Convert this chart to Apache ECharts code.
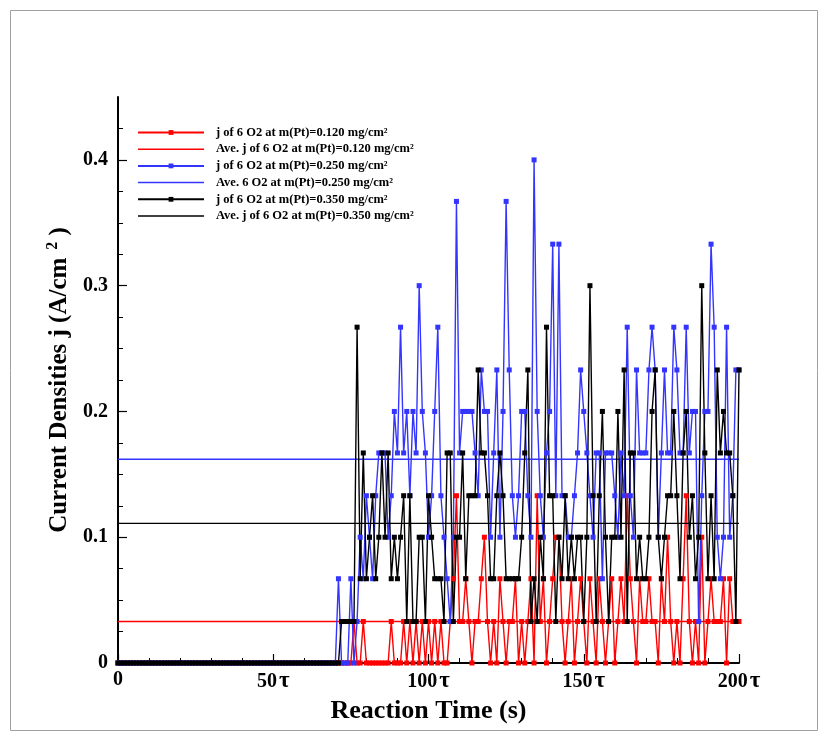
<!DOCTYPE html>
<html>
<head>
<meta charset="utf-8">
<script src="https://cdn.jsdelivr.net/npm/echarts@6/dist/echarts.min.js"></script>
<style>
  html, body { margin: 0; padding: 0; background: #fff; }
  #chart { width: 825px; height: 740px; }
</style>
</head>
<body>
<div id="chart"></div>
<script>
// Reaction time axis (τ units), one sample per step
const xTicks = [0, 50, 100, 150, 200];
const yTicks = [0, 0.1, 0.2, 0.3, 0.4];

// Current density j (A/cm^2), samples at t = 0, 1, 2, ... 200
const jPt120 = [
  0,0,0,0,0,0,0,0,0,0, 0,0,0,0,0,0,0,0,0,0, 0,0,0,0,0,0,0,0,0,0, 0,0,0,0,0,0,0,0,0,0,
  0,0,0,0,0,0,0,0,0,0, 0,0,0,0,0,0,0,0,0,0, 0,0,0,0,0,0,0,0,0,0,
  0,0,0,0,0,0,0.033,0,0,0.033, 0,0,0,0,0,0,0,0,0.033,0, 0,0,0.033,0,0.033,0,0.033,0,0.033,0,
  0.033,0,0.033,0,0.033,0,0,0.033,0.067,0.133, 0.033,0.033,0.067,0.033,0,0.033,0.033,0.067,0.1,0.033,
  0,0.033,0,0.067,0.033,0,0.033,0.033,0.067,0, 0.033,0,0.033,0.067,0,0.133,0.033,0.067,0,0.033,
  0.067,0.1,0.1,0.033,0,0.033,0.067,0,0.033,0.067, 0.033,0,0.067,0.033,0,0.067,0.033,0,0.033,0.067,
  0,0.033,0.067,0.033,0.133,0.067,0.033,0,0.067,0.033, 0.033,0.067,0.033,0.033,0,0.067,0.033,0.1,0.033,0,
  0.033,0,0.067,0.133,0.033,0,0.033,0,0.1,0, 0.033,0.067,0.033,0.033,0.033,0.067,0,0.067,0.033,0.033,
  0.033
];
const jPt250 = [
  0,0,0,0,0,0,0,0,0,0, 0,0,0,0,0,0,0,0,0,0, 0,0,0,0,0,0,0,0,0,0, 0,0,0,0,0,0,0,0,0,0,
  0,0,0,0,0,0,0,0,0,0, 0,0,0,0,0,0,0,0,0,0, 0,0,0,0,0,0,0,0,0,0,
  0,0.067,0,0,0,0.067,0,0.033,0.1,0.067, 0.133,0.1,0.067,0.133,0.167,0.167,0.167,0.1,0.133,0.2,
  0.167,0.267,0.167,0.2,0.133,0.2,0.167,0.3,0.2,0.167, 0.1,0.133,0.2,0.267,0.133,0.1,0.067,0.033,0.1,0.367,
  0.167,0.2,0.2,0.2,0.2,0.167,0.133,0.233,0.2,0.2, 0.1,0.167,0.233,0.1,0.2,0.367,0.233,0.133,0.1,0.133,
  0.2,0.2,0.133,0.1,0.4,0.2,0.133,0.1,0.167,0.2, 0.333,0.133,0.333,0.133,0.133,0.1,0.1,0.133,0.167,0.233,
  0.2,0.167,0.133,0.1,0.167,0.167,0.067,0.167,0.167,0.167, 0.133,0.1,0.167,0.133,0.267,0.133,0.1,0.233,0.167,0.167,
  0.167,0.233,0.267,0.233,0.1,0.167,0.233,0.167,0.167,0.267, 0.233,0.167,0.167,0.267,0.167,0.2,0.2,0.033,0.133,0.2,
  0.2,0.333,0.267,0.1,0.067,0.1,0.267,0.1,0.133,0.233, 0.233
];
const jPt350 = [
  0,0,0,0,0,0,0,0,0,0, 0,0,0,0,0,0,0,0,0,0, 0,0,0,0,0,0,0,0,0,0, 0,0,0,0,0,0,0,0,0,0,
  0,0,0,0,0,0,0,0,0,0, 0,0,0,0,0,0,0,0,0,0, 0,0,0,0,0,0,0,0,0,0,
  0,0,0.033,0.033,0.033,0.033,0.033,0.267,0.067,0.167, 0.067,0.1,0.133,0.067,0.1,0.167,0.1,0.167,0.067,0.1,
  0.067,0.1,0.133,0.033,0.133,0.033,0.033,0.1,0.1,0.033, 0.133,0.1,0.067,0.067,0.067,0.033,0.167,0.167,0.033,0.1,
  0.1,0.167,0.067,0.133,0.133,0.133,0.233,0.167,0.167,0.133, 0.067,0.067,0.133,0.167,0.133,0.067,0.067,0.067,0.067,0.067,
  0.1,0.167,0.233,0.033,0.067,0.033,0.1,0.067,0.267,0.133, 0.133,0.033,0.1,0.067,0.133,0.067,0.1,0.067,0.1,0.1,
  0.033,0.1,0.3,0.133,0.033,0.133,0.2,0.1,0.033,0.1, 0.1,0.2,0.1,0.233,0.033,0.167,0.167,0.067,0.1,0.067,
  0.067,0.1,0.2,0.233,0.1,0.067,0.1,0.133,0.133,0.2, 0.133,0.067,0.167,0.2,0.1,0.133,0.067,0.1,0.3,0.167,
  0.067,0.133,0.067,0.233,0.167,0.2,0.167,0.167,0.133,0.033, 0.233
];

// Averaged current densities (A/cm^2)
const avgPt120 = 0.033;
const avgPt250 = 0.162;
const avgPt350 = 0.111;

const seriesNames = [
  'j of 6 O2 at m(Pt)=0.120 mg/cm²',
  'Ave. j of 6 O2 at m(Pt)=0.120 mg/cm²',
  'j of 6 O2 at m(Pt)=0.250 mg/cm²',
  'Ave. 6 O2 at m(Pt)=0.250 mg/cm²',
  'j of 6 O2 at m(Pt)=0.350 mg/cm²',
  'Ave. j of 6 O2 at m(Pt)=0.350 mg/cm²'
];
const RED = '#ff0000', BLUE = '#3434ff', BLACK = '#000000';
const FONT = '"Liberation Serif", "Times New Roman", serif';
const LINE_ICON = 'path://M0,0H100V2.3H0Z';

const toPoints = arr => arr.map((v, i) => [i, v]);
const flat = v => [[xTicks[0], v], [xTicks[xTicks.length - 1], v]];

function sampleSeries(name, data, color) {
  return {
    name, type: 'line', data: toPoints(data),
    symbol: 'rect', symbolSize: 5, showSymbol: true,
    lineStyle: { color, width: 1.4 },
    itemStyle: { color },
    emphasis: { disabled: true }
  };
}
function avgSeries(name, v, color) {
  return {
    name, type: 'line', data: flat(v), symbol: 'none',
    lineStyle: { color, width: 1.4 },
    itemStyle: { color },
    emphasis: { disabled: true }
  };
}

const chart = echarts.init(document.getElementById('chart'), null, { renderer: 'canvas' });
chart.setOption({
  animation: false,
  backgroundColor: '#ffffff',
  graphic: [{
    type: 'rect', silent: true,
    shape: { x: 10.5, y: 10.5, width: 807, height: 720 },
    style: { fill: 'none', stroke: '#a0a0a0', lineWidth: 1 }
  }],
  grid: { left: 118, right: 86, top: 97, bottom: 77 },
  legend: {
    orient: 'vertical', left: 132, top: 121,
    itemWidth: 66, itemHeight: 6, itemGap: 3.7,
    textStyle: { fontFamily: FONT, fontWeight: 'bold', fontSize: 12.5, color: '#000', padding: [0, 0, 0, 7] },
    data: seriesNames.map((name, i) => i % 2 ? { name, icon: LINE_ICON } : { name })
  },
  xAxis: {
    type: 'value', min: 0, max: 200, interval: 50,
    name: 'Reaction Time (s)', nameLocation: 'middle', nameGap: 30,
    nameTextStyle: { fontFamily: FONT, fontWeight: 'bold', fontSize: 26, color: '#000' },
    axisLine: { lineStyle: { color: '#000', width: 2 } },
    axisTick: { inside: true, length: 9, lineStyle: { color: '#000', width: 1.2 }, customValues: xTicks },
    minorTick: { show: true, splitNumber: 5, length: 5, lineStyle: { color: '#000', width: 1 } },
    splitLine: { show: false },
    axisLabel: {
      customValues: xTicks, margin: 7,
      fontFamily: FONT, fontWeight: 'bold', fontSize: 20, color: '#000',
      formatter: v => v === 0 ? '0' : '{n|' + v + '}{t|τ}',
      rich: {
        n: { fontFamily: FONT, fontWeight: 'bold', fontSize: 20, color: '#000' },
        t: { fontFamily: FONT, fontSize: 23, color: '#000', padding: [0, 0, 0, 2] }
      }
    }
  },
  yAxis: {
    type: 'value', min: 0, max: 0.45, interval: 0.1,
    name: 'Current Densities j (A/cm{sup|2} )', nameLocation: 'middle', nameGap: 43, nameRotate: 90,
    nameTextStyle: {
      fontFamily: FONT, fontWeight: 'bold', fontSize: 25, color: '#000',
      rich: { sup: { fontFamily: FONT, fontWeight: 'bold', fontSize: 16, verticalAlign: 'top', padding: [0, 0, 14, 8] } }
    },
    axisLine: { show: true, lineStyle: { color: '#000', width: 2 } },
    axisTick: { inside: true, length: 9, lineStyle: { color: '#000', width: 1.2 }, customValues: yTicks },
    minorTick: { show: true, splitNumber: 4, length: 5, lineStyle: { color: '#000', width: 1 } },
    splitLine: { show: false },
    axisLabel: {
      customValues: yTicks, margin: 10,
      fontFamily: FONT, fontWeight: 'bold', fontSize: 20, color: '#000',
      formatter: v => v === 0 ? '0' : v.toFixed(1)
    }
  },
  series: [
    sampleSeries(seriesNames[0], jPt120, RED),
    avgSeries(seriesNames[1], avgPt120, RED),
    sampleSeries(seriesNames[2], jPt250, BLUE),
    avgSeries(seriesNames[3], avgPt250, BLUE),
    sampleSeries(seriesNames[4], jPt350, BLACK),
    avgSeries(seriesNames[5], avgPt350, BLACK)
  ]
});
</script>
</body>
</html>
